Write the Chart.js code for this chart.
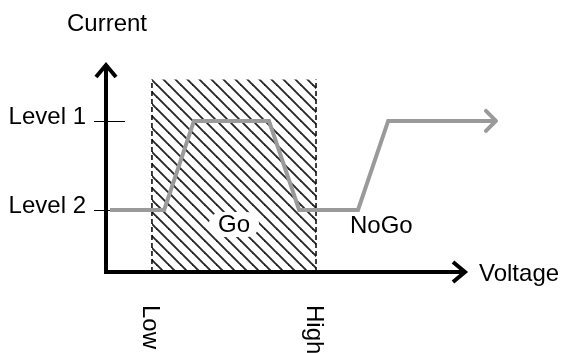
<!DOCTYPE html>
<html>
<head>
<meta charset="utf-8">
<script src="https://cdn.jsdelivr.net/npm/chart.js@4/dist/chart.umd.min.js"></script>
<style>
    html, body { margin: 0; padding: 0; background: #fff; }
</style>
</head>
<body>
<canvas id="grafico" width="565" height="353"></canvas>
<script>
// characteristic curve (voltage vs current), arbitrary units 0..100
const voltage = [1.1, 16.2, 24.5, 45.4, 53.8, 70.2, 78.6, 108.9];
const current = [30, 30, 73, 73, 30, 30, 73, 73];

// current levels and their labels
const levelValues = [73, 30];
const levelLabels = ['Level 1', 'Level 2'];

// Go window on the voltage axis
const limitValues = [12.8, 58.5];
const limitLabels = ['Low', 'High'];
const goTop = 93;

const FONT = '24px "Liberation Sans", Arial, sans-serif';
const GRAY = '#9a9a9a';

function hatchPattern() {
    const s = 12;
    const c = document.createElement('canvas');
    c.width = s;
    c.height = s;
    const g = c.getContext('2d');
    g.fillStyle = '#fff';
    g.fillRect(0, 0, s, s);
    g.strokeStyle = '#262626';
    g.lineWidth = 1.9;
    for (let k = -1; k <= 1; k++) {
        g.beginPath();
        g.moveTo(-2, -2 + k * s);
        g.lineTo(s + 2, s + 2 + k * s);
        g.stroke();
    }
    return document.getElementById('grafico').getContext('2d').createPattern(c, 'repeat');
}

const curvePoints = voltage.map((v, i) => ({ x: v, y: current[i] }));

const annotations = {
    id: 'annotations',
    beforeDatasetsDraw(chart) {
        const { ctx, scales: { y }, chartArea } = chart;
        ctx.save();
        // level tick marks
        ctx.strokeStyle = '#000';
        ctx.lineWidth = 1;
        levelValues.forEach(v => {
            const py = Math.round(y.getPixelForValue(v)) + 0.5;
            ctx.beginPath();
            ctx.moveTo(chartArea.left - 12, py);
            ctx.lineTo(chartArea.left + 19, py);
            ctx.stroke();
        });
        ctx.restore();
    },
    afterDatasetsDraw(chart) {
        const { ctx, scales: { x, y }, chartArea } = chart;
        const left = chartArea.left, bottom = chartArea.bottom;
        ctx.save();

        // arrowhead at the end of the curve
        const meta = chart.getDatasetMeta(0);
        const last = meta.data[meta.data.length - 1];
        ctx.strokeStyle = GRAY;
        ctx.lineWidth = 4;
        ctx.lineJoin = 'round';
        ctx.lineCap = 'round';
        ctx.beginPath();
        ctx.moveTo(last.x - 11, last.y - 10);
        ctx.lineTo(last.x - 1, last.y);
        ctx.lineTo(last.x - 11, last.y + 10);
        ctx.stroke();

        // axes with arrows
        ctx.strokeStyle = '#000';
        ctx.lineWidth = 4;
        ctx.lineCap = 'butt';
        ctx.lineJoin = 'miter';
        ctx.beginPath();
        ctx.moveTo(left, bottom + 2);
        ctx.lineTo(left, chartArea.top + 1);
        ctx.moveTo(left - 2, bottom);
        ctx.lineTo(chartArea.right, bottom);
        ctx.stroke();
        ctx.beginPath();
        ctx.moveTo(left - 10, chartArea.top + 12);
        ctx.lineTo(left, chartArea.top);
        ctx.lineTo(left + 10, chartArea.top + 12);
        ctx.stroke();
        ctx.beginPath();
        ctx.moveTo(chartArea.right - 12, bottom - 10);
        ctx.lineTo(chartArea.right, bottom);
        ctx.lineTo(chartArea.right - 12, bottom + 10);
        ctx.stroke();

        // texts
        ctx.font = FONT;
        ctx.fillStyle = '#000';
        ctx.textBaseline = 'alphabetic';

        ctx.textAlign = 'center';
        ctx.fillText('Current', left + 1, 31);

        ctx.textAlign = 'right';
        levelValues.forEach((v, i) => {
            ctx.fillText(levelLabels[i], left - 20, y.getPixelForValue(v) + 3);
        });

        ctx.textAlign = 'left';
        ctx.fillText('Voltage', chartArea.right + 14, bottom + 9);

        // Go label on a white blob
        const goX = (x.getPixelForValue(limitValues[0]) + x.getPixelForValue(limitValues[1])) / 2;
        const goY = y.getPixelForValue(levelValues[1]) + 14;
        ctx.fillStyle = '#fff';
        ctx.beginPath();
        ctx.roundRect(goX - 25, goY - 12, 50, 25, 12);
        ctx.fill();
        ctx.fillStyle = '#000';
        ctx.textAlign = 'center';
        ctx.fillText('Go', goX, goY + 8);

        ctx.textAlign = 'left';
        ctx.fillText('NoGo', x.getPixelForValue(limitValues[1]) + 34, goY + 9);

        // Low / High rotated labels
        limitValues.forEach((v, i) => {
            ctx.save();
            ctx.translate(x.getPixelForValue(v) - 9, bottom + 33);
            ctx.rotate(Math.PI / 2);
            ctx.textAlign = 'left';
            ctx.fillText(limitLabels[i], 0, 0);
            ctx.restore();
        });

        ctx.restore();
    }
};

const grafico = new Chart(document.getElementById('grafico'), {
    type: 'line',
    data: {
        datasets: [
            {
                data: curvePoints,
                borderColor: GRAY,
                borderWidth: 4,
                pointRadius: 0,
                tension: 0,
                fill: false,
                clip: false,
                order: 0
            },
            {
                data: [{ x: limitValues[0], y: goTop }, { x: limitValues[1], y: goTop }],
                borderWidth: 0,
                borderColor: 'rgba(0,0,0,0)',
                backgroundColor: hatchPattern(),
                pointRadius: 0,
                fill: 'origin',
                order: 3
            },
            {
                data: [{ x: limitValues[0], y: 0 }, { x: limitValues[0], y: goTop }],
                borderColor: '#000',
                borderWidth: 1.5,
                borderDash: [5, 3],
                pointRadius: 0,
                fill: false,
                order: 2
            },
            {
                data: [{ x: limitValues[1], y: 0 }, { x: limitValues[1], y: goTop }],
                borderColor: '#000',
                borderWidth: 1.5,
                borderDash: [5, 3],
                pointRadius: 0,
                fill: false,
                order: 2
            }
        ]
    },
    options: {
        responsive: false,
        animation: false,
        layout: {
            padding: { left: 106, top: 65, right: 100, bottom: 81 }
        },
        scales: {
            x: { type: 'linear', min: 0, max: 100, display: false },
            y: { type: 'linear', min: 0, max: 100, display: false }
        },
        plugins: {
            legend: { display: false },
            tooltip: { enabled: false }
        }
    },
    plugins: [annotations]
});
</script>
</body>
</html>
